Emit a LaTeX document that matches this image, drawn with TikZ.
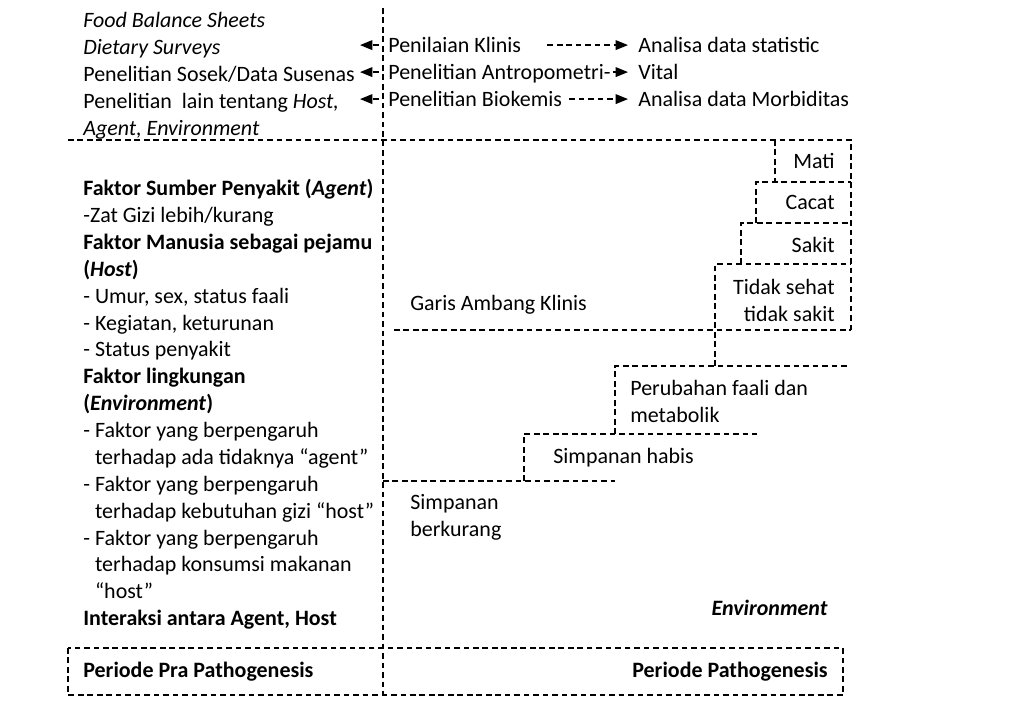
\documentclass[tikz,border=0pt]{standalone}
\usepackage{fontspec}
\setmainfont{Carlito}
\usetikzlibrary{arrows.meta}

\tikzset{
  dashline/.style={dash pattern=on 3.2pt off 2.2pt, line width=0.75pt},
  txt/.style={inner sep=0pt, font=\fontsize{12.5}{15.3}\selectfont},
  one/.style={txt, text height=10pt, text depth=1pt},
  arr/.style={dashline, -{Triangle[length=7pt,width=5.5pt]}}
}

\begin{document}
\begin{tikzpicture}[x=0.02cm,y=-0.02cm]
  \useasboundingbox (0,0) rectangle (1030,716);
  % Frame
  \draw[dashline] (383,8) -- (383,695);
  \draw[dashline] (68,140) -- (851,140) -- (851,330);
  \draw[dashline] (68,648) rectangle (843,695);
  % Steps above the clinical threshold
  \draw[dashline] (775,140) -- (775,182);
  \draw[dashline] (756,223) -- (756,182) -- (851,182);
  \draw[dashline] (741,264) -- (741,223) -- (851,223);
  \draw[dashline] (715,366) -- (715,264) -- (851,264);
  \draw[dashline] (394,330) -- (851,330);
  % Steps below the clinical threshold
  \draw[dashline] (615,434) -- (615,366) -- (848,366);
  \draw[dashline] (524,481) -- (524,434) -- (757,434);
  \draw[dashline] (383,481) -- (615,481);

  % Data sources
  \node[txt, anchor=north west, align=left] (survey) at (83,12)
    {\textit{Food Balance Sheets}\\ \textit{Dietary Surveys}\\
     Penelitian Sosek/Data Susenas\\ Penelitian\ \ lain tentang \textit{Host,}\\
     \textit{Agent, Environment}};
  \node[one, anchor=base west] (klinis) at (388,53) {Penilaian Klinis};
  \node[one, anchor=base west] (antro) at (388,80) {Penelitian Antropometri-};
  \node[one, anchor=base west] (biokem) at (388,107) {Penelitian Biokemis};
  \node[one, anchor=base west] (stat) at (638,53) {Analisa data statistic};
  \node[one, anchor=base west] (vital) at (638,80) {Vital};
  \node[one, anchor=base west] (morbid) at (638,107) {Analisa data Morbiditas};
  \coordinate (ltip) at (360,0);
  \foreach \n in {klinis,antro,biokem}
    \draw[arr, shorten <=0.18cm] (\n.west) -- (\n.west -| ltip);
  \draw[arr, shorten <=0.52cm, shorten >=0.2cm] (klinis.east) -- (stat.west);
  \draw[arr, shorten <=1pt, shorten >=0.2cm] (antro.east) -- (vital.west);
  \draw[arr, shorten <=0.14cm, shorten >=0.2cm] (biokem.east) -- (morbid.west);

  % Factors
  \node[txt, anchor=north west, align=left] (faktor) at (83,179)
    {\textbf{Faktor Sumber Penyakit (\textit{Agent})}\\
     -Zat Gizi lebih/kurang\\
     \textbf{Faktor Manusia sebagai pejamu}\\
     \textbf{(\textit{Host})}\\
     - Umur, sex, status faali\\
     - Kegiatan, keturunan\\
     - Status penyakit\\
     \textbf{Faktor lingkungan}\\
     \textbf{(\textit{Environment})}\\
     - Faktor yang berpengaruh\\
     \phantom{-}\ terhadap ada tidaknya “agent”\\
     - Faktor yang berpengaruh\\
     \phantom{-}\ terhadap kebutuhan gizi “host”\\
     - Faktor yang berpengaruh\\
     \phantom{-}\ terhadap konsumsi makanan\\
     \phantom{-}\ “host”\\
     \textbf{Interaksi antara Agent, Host}};

  % Stages
  \node[one, anchor=base east] (mati) at (835,169) {Mati};
  \node[one, anchor=base east] (cacat) at (835,210) {Cacat};
  \node[one, anchor=base east] (sakit) at (835,252) {Sakit};
  \node[txt, anchor=north east, align=right] (tidak) at (835,279)
    {Tidak sehat\\ tidak sakit};
  \node[one, anchor=base west] (ambang) at (410,310) {Garis Ambang Klinis};
  \node[txt, anchor=north west, align=left] (faali) at (630,380)
    {Perubahan faali dan\\ metabolik};
  \node[one, anchor=base west] (habis) at (553,463) {Simpanan habis};
  \node[txt, anchor=north west, align=left] (kurang) at (410,494)
    {Simpanan\\ berkurang};
  \node[one, anchor=base east] (env) at (828,615) {\textbf{\textit{Environment}}};

  % Periods
  \node[one, anchor=base west] (pra) at (83,677) {\textbf{Periode Pra Pathogenesis}};
  \node[one, anchor=base east] (pato) at (828,677) {\textbf{Periode Pathogenesis}};
\end{tikzpicture}
\end{document}
